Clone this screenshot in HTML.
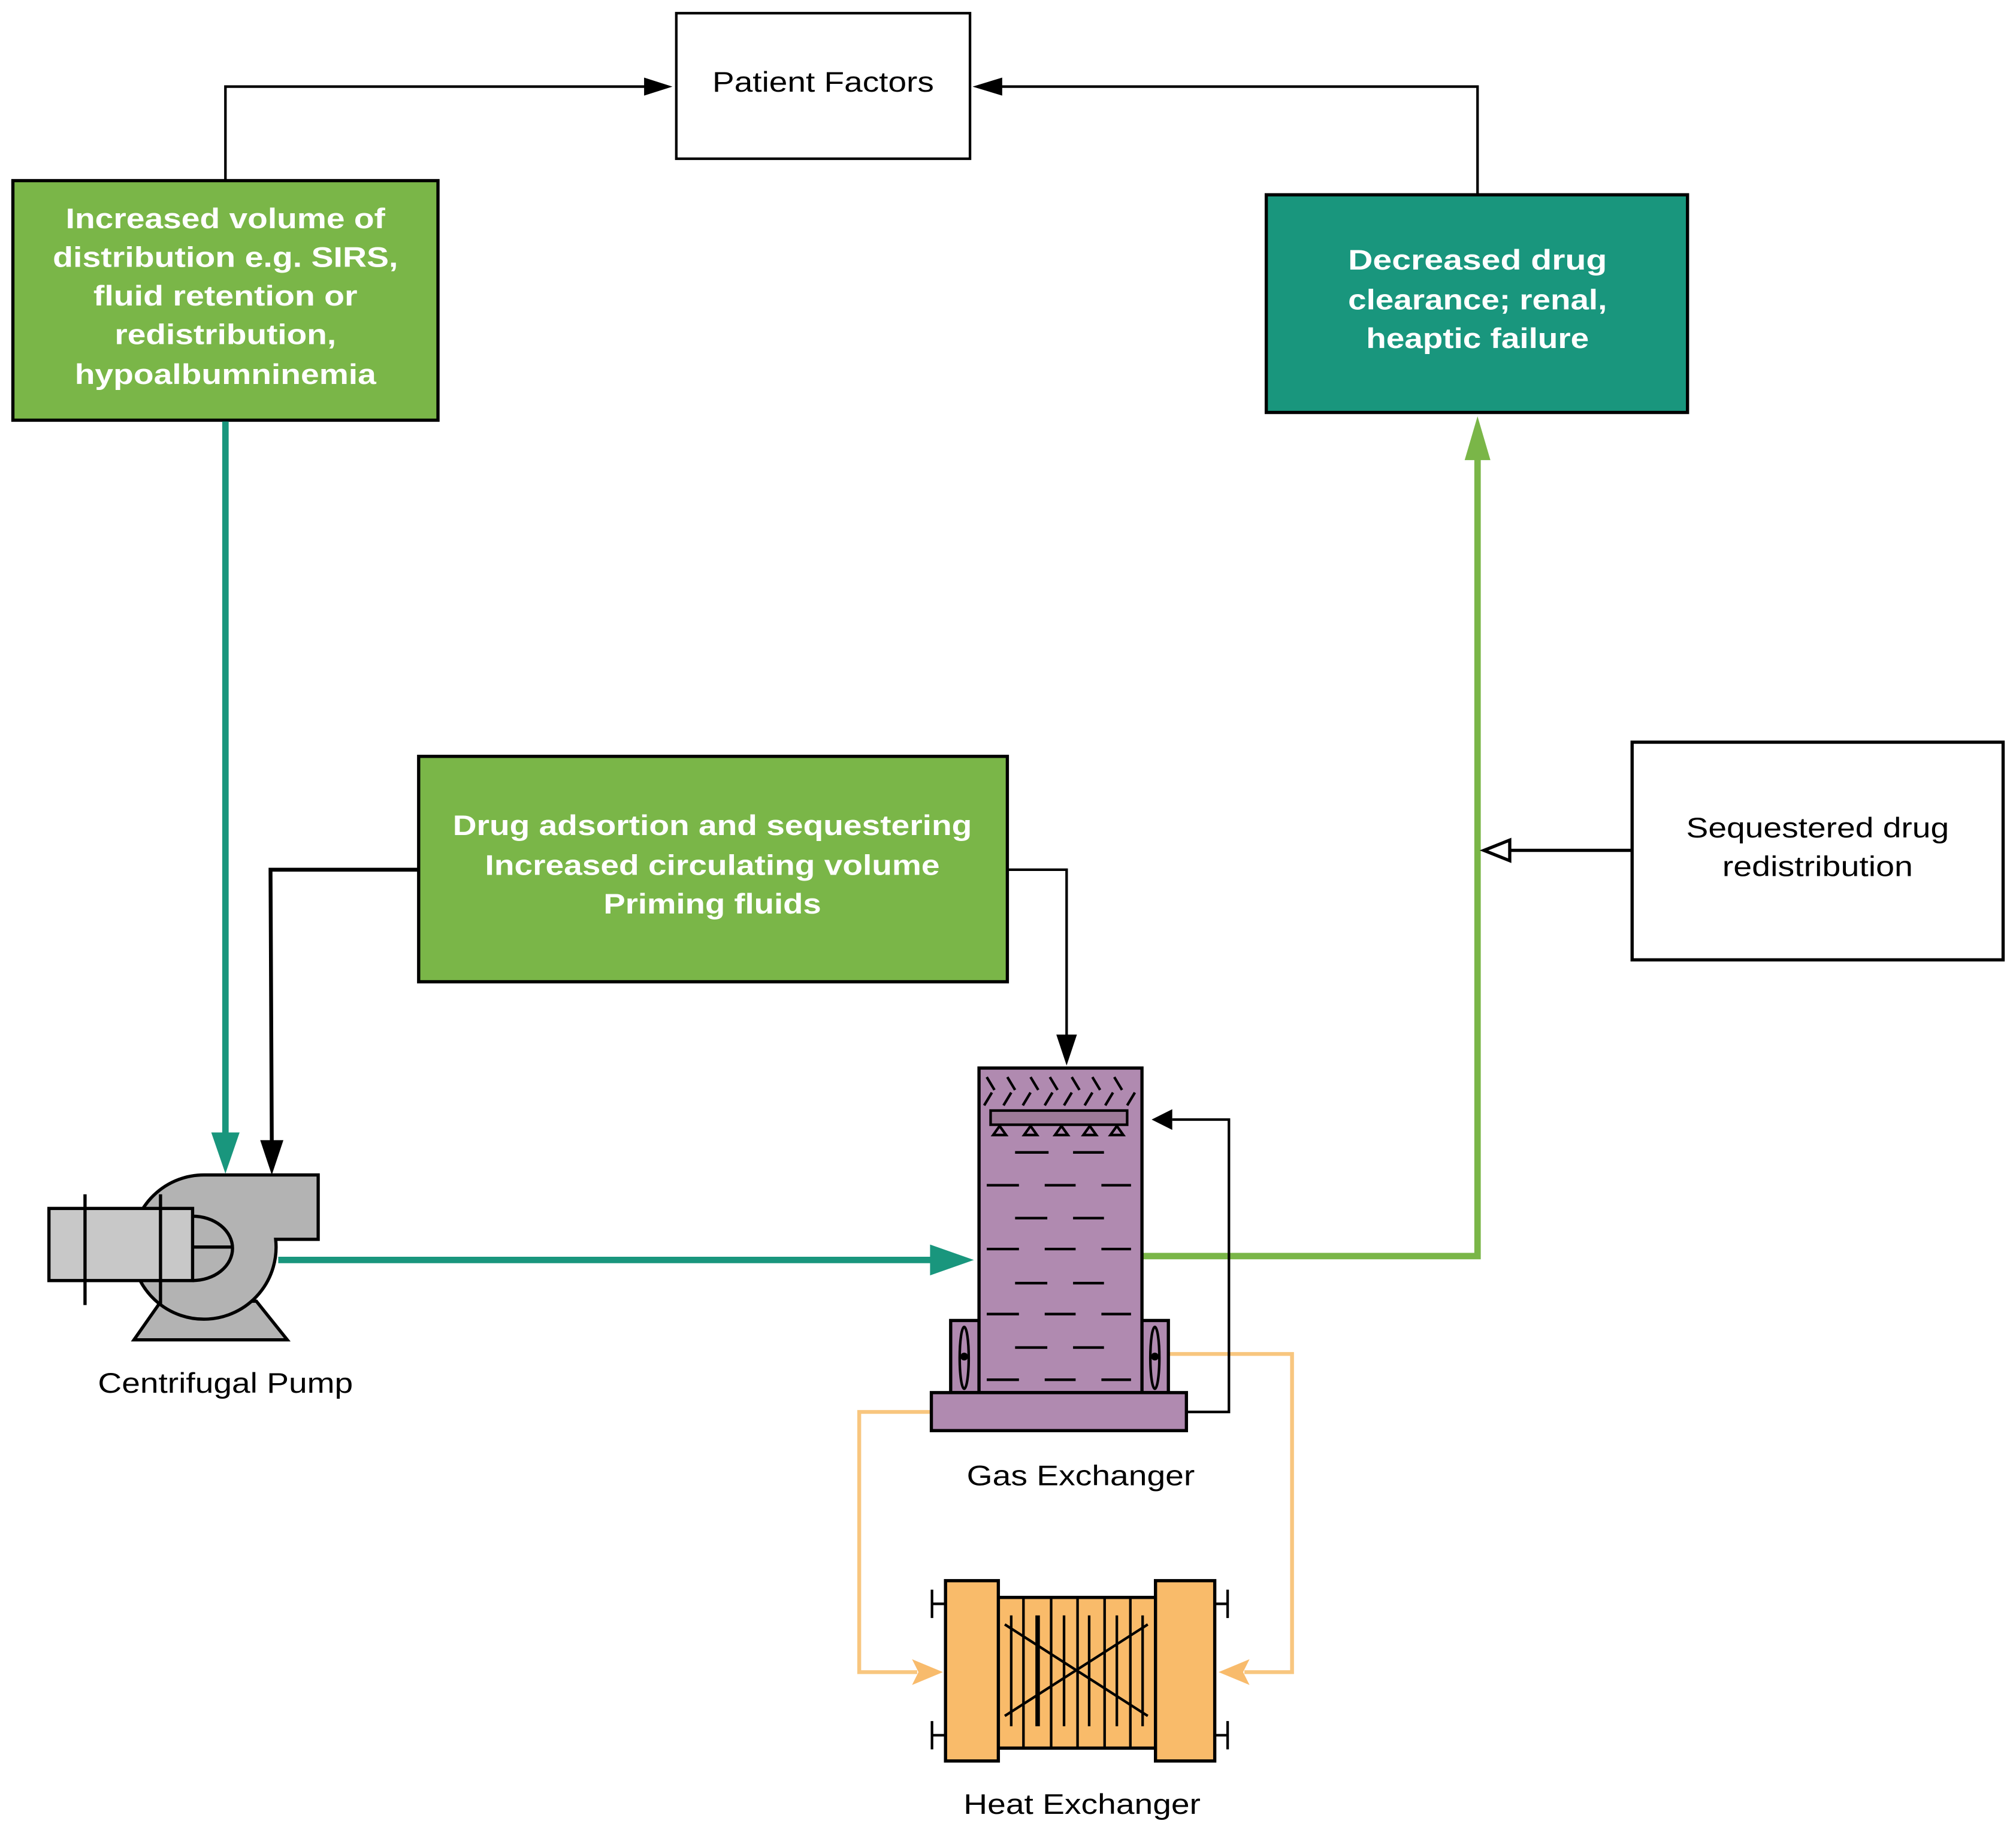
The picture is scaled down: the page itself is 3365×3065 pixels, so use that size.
<!DOCTYPE html>
<html><head><meta charset="utf-8"><style>html,body{margin:0;padding:0;background:#fff}svg{display:block}</style></head>
<body>
<svg width="3365" height="3065" viewBox="0 0 1565 1425" xmlns="http://www.w3.org/2000/svg" font-family="Liberation Sans, Arial, sans-serif">
<rect width="1565" height="1425" fill="#fff"/>

<!-- Top connectors -->
<polyline points="175,140 175,67 508,67" fill="none" stroke="#000" stroke-width="2"/>
<polygon points="522,67 500,60 500,74" fill="#000"/>
<polyline points="1147,151 1147,67 770,67" fill="none" stroke="#000" stroke-width="2"/>
<polygon points="755,67 778,60 778,74" fill="#000"/>

<!-- Patient Factors -->
<rect x="525" y="10" width="228" height="113" fill="#fff" stroke="#000" stroke-width="2"/>
<text x="639" y="71" font-size="22" text-anchor="middle" textLength="172" lengthAdjust="spacingAndGlyphs">Patient Factors</text>

<!-- Left green box -->
<rect x="10" y="140" width="330" height="186" fill="#7ab648" stroke="#000" stroke-width="2.5"/>
<g fill="#fff" font-weight="bold" font-size="22" text-anchor="middle" lengthAdjust="spacingAndGlyphs">
<text x="175" y="177" textLength="248" lengthAdjust="spacingAndGlyphs">Increased volume of</text>
<text x="175" y="207" textLength="268" lengthAdjust="spacingAndGlyphs">distribution e.g. SIRS,</text>
<text x="175" y="237" textLength="205" lengthAdjust="spacingAndGlyphs">fluid retention or</text>
<text x="175" y="267" textLength="172" lengthAdjust="spacingAndGlyphs">redistribution,</text>
<text x="175" y="298" textLength="234" lengthAdjust="spacingAndGlyphs">hypoalbumninemia</text>
</g>

<!-- Teal box -->
<rect x="983" y="151" width="327" height="169" fill="#19967d" stroke="#000" stroke-width="2.5"/>
<g fill="#fff" font-weight="bold" font-size="22" text-anchor="middle">
<text x="1147" y="209" textLength="201" lengthAdjust="spacingAndGlyphs">Decreased  drug</text>
<text x="1147" y="240" textLength="201" lengthAdjust="spacingAndGlyphs">clearance; renal,</text>
<text x="1147" y="270" textLength="173" lengthAdjust="spacingAndGlyphs">heaptic failure</text>
</g>

<!-- Teal vertical to pump -->
<line x1="175" y1="327" x2="175" y2="885" stroke="#19967d" stroke-width="5"/>
<polygon points="175,911 164,879 186,879" fill="#19967d"/>

<!-- Middle green box -->
<rect x="325" y="587" width="457" height="175" fill="#7ab648" stroke="#000" stroke-width="2.5"/>
<g fill="#fff" font-weight="bold" font-size="22" text-anchor="middle">
<text x="553" y="648" textLength="403" lengthAdjust="spacingAndGlyphs">Drug adsortion and sequestering</text>
<text x="553" y="679" textLength="353" lengthAdjust="spacingAndGlyphs">Increased circulating volume</text>
<text x="553" y="709" textLength="169" lengthAdjust="spacingAndGlyphs">Priming fluids</text>
</g>
<polyline points="325,675 210,675 211,890" fill="none" stroke="#000" stroke-width="3"/>
<polygon points="211,912 202,885 220,885" fill="#000"/>
<polyline points="782,675 828,675 828,805" fill="none" stroke="#000" stroke-width="2"/>
<polygon points="828,827 820,803 836,803" fill="#000"/>

<!-- Sequestered box -->
<rect x="1267" y="576" width="288" height="169" fill="#fff" stroke="#000" stroke-width="2.5"/>
<text x="1411" y="650" font-size="22" text-anchor="middle" textLength="204" lengthAdjust="spacingAndGlyphs">Sequestered drug</text>
<text x="1411" y="680" font-size="22" text-anchor="middle" textLength="148" lengthAdjust="spacingAndGlyphs">redistribution</text>

<!-- Green return line -->
<polyline points="886,975 1147,975 1147,350" fill="none" stroke="#7ab648" stroke-width="5"/>
<polygon points="1147,323 1137,357 1157,357" fill="#7ab648"/>
<line x1="1267" y1="660" x2="1172" y2="660" stroke="#000" stroke-width="2.5"/>
<polygon points="1152,660 1172,652 1172,668" fill="#fff" stroke="#000" stroke-width="2.5"/>

<!-- Pump -->
<polygon points="125,1010 199,1010 223,1040 104,1040" fill="#b3b3b3" stroke="#000" stroke-width="2.5"/>
<path d="M160,912 L247,912 L247,962 L214,962 A56,56 0 1 1 160,912 Z" fill="#b3b3b3" stroke="#000" stroke-width="2.5"/>
<line x1="216" y1="978" x2="730" y2="978" stroke="#19967d" stroke-width="5"/>
<polygon points="756,978 722,966 722,990" fill="#19967d"/>
<path d="M149.5,944 A31,25 0 0 1 149.5,994" fill="#b3b3b3" stroke="#000" stroke-width="2.5"/>
<line x1="149.5" y1="968" x2="180" y2="968" stroke="#000" stroke-width="2.5"/>
<rect x="38" y="938" width="111.5" height="56" fill="#c8c8c8" stroke="#000" stroke-width="2.5"/>
<line x1="66" y1="927" x2="66" y2="1013" stroke="#000" stroke-width="2.5"/>
<line x1="124.6" y1="927" x2="124.6" y2="1013" stroke="#000" stroke-width="2.5"/>
<text x="175" y="1081" font-size="22" text-anchor="middle" textLength="198" lengthAdjust="spacingAndGlyphs">Centrifugal Pump</text>

<!-- Orange loop lines -->
<polyline points="724,1096 667,1096 667,1298 712,1298" fill="none" stroke="#f8c67f" stroke-width="3"/>
<polygon points="732,1298 708,1288 713,1298 708,1308" fill="#f8bb6c"/>
<polyline points="906,1051 1003,1051 1003,1298 966,1298" fill="none" stroke="#f8c67f" stroke-width="3"/>
<polygon points="946,1298 970,1288 965,1298 970,1308" fill="#f8bb6c"/>

<!-- Gas exchanger -->
<polyline points="920,1096 954,1096 954,869 910,869" fill="none" stroke="#000" stroke-width="2"/>
<polygon points="894,869 910,861 910,877" fill="#000"/>
<rect x="738" y="1025" width="22" height="56" fill="#b08ab0" stroke="#000" stroke-width="2.5"/>
<rect x="886" y="1025" width="21" height="56" fill="#b08ab0" stroke="#000" stroke-width="2.5"/>
<ellipse cx="748.5" cy="1054" rx="3.5" ry="24" fill="none" stroke="#000" stroke-width="2"/>
<ellipse cx="896.5" cy="1054" rx="3.5" ry="24" fill="none" stroke="#000" stroke-width="2"/>
<circle cx="748.5" cy="1053" r="3" fill="#000"/>
<circle cx="896.5" cy="1053" r="3" fill="#000"/>
<rect x="760" y="829" width="126.5" height="252" fill="#b08ab0" stroke="#000" stroke-width="2.5"/>
<rect x="723" y="1081" width="198" height="29.5" fill="#b08ab0" stroke="#000" stroke-width="2.5"/>
<g stroke="#000" stroke-width="2">
<line x1="766" y1="836" x2="772" y2="846"/><line x1="782" y1="836" x2="788" y2="846"/><line x1="800" y1="836" x2="806" y2="846"/><line x1="815" y1="836" x2="821" y2="846"/><line x1="832" y1="836" x2="838" y2="846"/><line x1="848" y1="836" x2="854" y2="846"/><line x1="865" y1="836" x2="871" y2="846"/>
<line x1="770" y1="848" x2="764" y2="858"/><line x1="785" y1="848" x2="779" y2="858"/><line x1="800" y1="848" x2="794" y2="858"/><line x1="817" y1="848" x2="811" y2="858"/><line x1="832" y1="848" x2="826" y2="858"/><line x1="848" y1="848" x2="842" y2="858"/><line x1="864" y1="848" x2="858" y2="858"/><line x1="881" y1="848" x2="875" y2="858"/>
</g>
<rect x="769" y="862" width="106" height="11" fill="#9d7a98" stroke="#000" stroke-width="2"/>
<g fill="#b08ab0" stroke="#000" stroke-width="2">
<polygon points="776,874 771,881 781,881"/><polygon points="800,874 795,881 805,881"/><polygon points="824,874 819,881 829,881"/><polygon points="846,874 841,881 851,881"/><polygon points="867,874 862,881 872,881"/>
</g>
<g stroke="#000" stroke-width="2">
<line x1="788" y1="894.5" x2="814" y2="894.5"/><line x1="833" y1="894.5" x2="857" y2="894.5"/>
<line x1="766" y1="920" x2="791" y2="920"/><line x1="811" y1="920" x2="835" y2="920"/><line x1="855" y1="920" x2="878" y2="920"/>
<line x1="788" y1="945.5" x2="813" y2="945.5"/><line x1="833" y1="945.5" x2="857" y2="945.5"/>
<line x1="766" y1="969.5" x2="791" y2="969.5"/><line x1="811" y1="969.5" x2="835" y2="969.5"/><line x1="855" y1="969.5" x2="878" y2="969.5"/>
<line x1="788" y1="996" x2="813" y2="996"/><line x1="833" y1="996" x2="857" y2="996"/>
<line x1="766" y1="1020" x2="791" y2="1020"/><line x1="811" y1="1020" x2="835" y2="1020"/><line x1="855" y1="1020" x2="878" y2="1020"/>
<line x1="788" y1="1046" x2="813" y2="1046"/><line x1="833" y1="1046" x2="857" y2="1046"/>
<line x1="766" y1="1071" x2="791" y2="1071"/><line x1="811" y1="1071" x2="835" y2="1071"/><line x1="855" y1="1071" x2="878" y2="1071"/>
</g>
<text x="839" y="1153" font-size="22" text-anchor="middle" textLength="177" lengthAdjust="spacingAndGlyphs">Gas Exchanger</text>

<!-- Heat exchanger -->
<g stroke="#000" stroke-width="2">
<line x1="723.5" y1="1234" x2="723.5" y2="1256"/><line x1="723.5" y1="1245" x2="735" y2="1245"/>
<line x1="723.5" y1="1336" x2="723.5" y2="1358"/><line x1="723.5" y1="1347" x2="735" y2="1347"/>
<line x1="953" y1="1234" x2="953" y2="1256"/><line x1="942" y1="1245" x2="953" y2="1245"/>
<line x1="953" y1="1336" x2="953" y2="1358"/><line x1="942" y1="1347" x2="953" y2="1347"/>
</g>
<rect x="775" y="1240" width="122" height="117" fill="#f9bb6a" stroke="#000" stroke-width="2.5"/>
<rect x="734" y="1227" width="41" height="140" fill="#f9bb6a" stroke="#000" stroke-width="2.5"/>
<rect x="897" y="1227" width="46" height="140" fill="#f9bb6a" stroke="#000" stroke-width="2.5"/>
<g stroke="#000" stroke-width="2">
<line x1="794.5" y1="1240" x2="794.5" y2="1357"/><line x1="816" y1="1240" x2="816" y2="1357"/><line x1="836.5" y1="1240" x2="836.5" y2="1357"/><line x1="857.5" y1="1240" x2="857.5" y2="1357"/><line x1="877.5" y1="1240" x2="877.5" y2="1357"/>
<line x1="785" y1="1254" x2="785" y2="1340"/><line x1="805.5" y1="1254" x2="805.5" y2="1340" stroke-width="3.5"/><line x1="826" y1="1254" x2="826" y2="1340"/><line x1="845.5" y1="1254" x2="845.5" y2="1340"/><line x1="867" y1="1254" x2="867" y2="1340"/><line x1="887" y1="1254" x2="887" y2="1340"/>
<line x1="780" y1="1261" x2="891" y2="1332"/><line x1="780" y1="1332" x2="891" y2="1261"/>
</g>
<text x="840" y="1408" font-size="22" text-anchor="middle" textLength="184" lengthAdjust="spacingAndGlyphs">Heat Exchanger</text>
</svg>
</body></html>
